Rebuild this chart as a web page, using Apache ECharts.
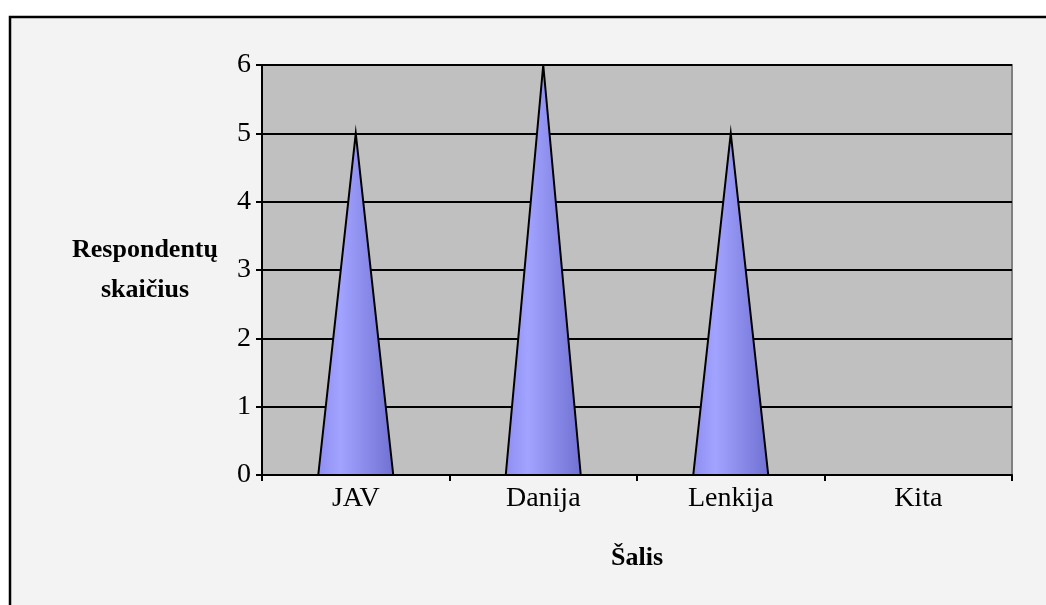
<!DOCTYPE html>
<html>
<head>
<meta charset="utf-8">
<script src="https://cdn.jsdelivr.net/npm/echarts@6/dist/echarts.min.js"></script>
<style>
html,body{margin:0;padding:0;background:#fff;}
#main{width:1046px;height:605px;}
</style>
</head>
<body>
<div id="main"></div>
<script>
const categories = ['JAV', 'Danija', 'Lenkija', 'Kita'];
const values = [5, 6, 5, 0];
const yTicks = [0, 1, 2, 3, 4, 5, 6];
const xTitle = 'Šalis';
const yTitle = 'Respondentų\nskaičius';

const FONT = "'Liberation Serif', 'Times New Roman', serif";
const chart = echarts.init(document.getElementById('main'));

const coneFill = new echarts.graphic.LinearGradient(0, 0, 1, 0, [
  { offset: 0, color: '#8e8ef2' },
  { offset: 0.3, color: '#a2a2ff' },
  { offset: 1, color: '#7070d2' }
]);

chart.setOption({
  backgroundColor: '#ffffff',
  animation: false,
  graphic: [{
    type: 'rect',
    z: -100,
    silent: true,
    shape: { x: 10, y: 17, width: 1100, height: 700 },
    style: { fill: '#f3f3f3', stroke: '#000000', lineWidth: 2.5 }
  }],
  grid: {
    left: 262, right: 34, top: 65, bottom: 130,
    show: true,
    backgroundColor: '#c0c0c0',
    borderColor: '#808080',
    borderWidth: 2
  },
  xAxis: {
    type: 'category',
    data: categories,
    boundaryGap: true,
    axisLine: { show: true, lineStyle: { color: '#000', width: 2 } },
    axisTick: { show: true, length: 6, lineStyle: { color: '#000', width: 2 } },
    axisLabel: { color: '#000', fontFamily: FONT, fontSize: 28, margin: 10 },
    name: xTitle,
    nameLocation: 'middle',
    nameGap: 70,
    nameTextStyle: { color: '#000', fontFamily: FONT, fontSize: 26, fontWeight: 'bold' }
  },
  yAxis: {
    type: 'value',
    min: yTicks[0],
    max: yTicks[yTicks.length - 1],
    interval: 1,
    axisLine: { show: true, lineStyle: { color: '#000', width: 2 } },
    axisTick: { show: true, length: 6, lineStyle: { color: '#000', width: 2 } },
    axisLabel: { color: '#000', fontFamily: FONT, fontSize: 28, margin: 11 },
    splitLine: { show: true, lineStyle: { color: '#000', width: 2 } },
    name: yTitle,
    nameLocation: 'middle',
    nameRotate: 0,
    nameGap: 117,
    nameTextStyle: { color: '#000', fontFamily: FONT, fontSize: 26, fontWeight: 'bold', align: 'center', lineHeight: 40 }
  },
  series: [{
    type: 'custom',
    z: 5,
    data: categories.map((c, i) => [i, values[i]]),
    encode: { x: 0, y: 1 },
    renderItem: function (params, api) {
      const idx = api.value(0);
      const base = api.coord([idx, 0]);
      const top = api.coord([idx, api.value(1)]);
      const half = api.size([1, 0])[0] * 0.4 / 2;
      return {
        type: 'polygon',
        shape: { points: [[base[0] - half, base[1]], [top[0], top[1]], [base[0] + half, base[1]]] },
        style: { fill: coneFill, stroke: '#000', lineWidth: 2, lineJoin: 'miter' }
      };
    }
  }]
});
</script>
</body>
</html>
